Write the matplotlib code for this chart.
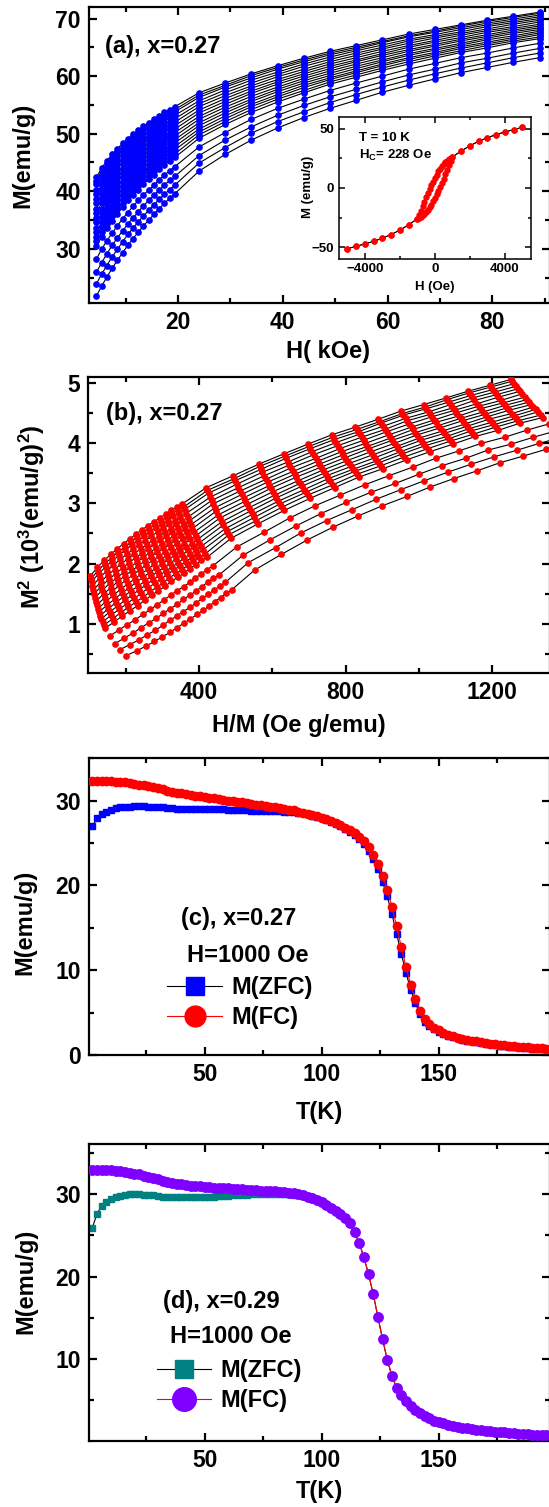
import matplotlib

matplotlib.use("Agg")

import matplotlib.pyplot as plt
import numpy as np
from matplotlib.ticker import MultipleLocator

plt.rcParams["font.family"] = ["Liberation Sans", "DejaVu Sans"]
plt.rcParams["font.weight"] = "bold"
plt.rcParams["axes.labelweight"] = "bold"
plt.rcParams["mathtext.fontset"] = "custom"
plt.rcParams["mathtext.rm"] = "Liberation Sans:bold"
plt.rcParams["mathtext.it"] = "Liberation Sans:bold"
plt.rcParams["mathtext.bf"] = "Liberation Sans:bold"
plt.rcParams["mathtext.default"] = "rm"

# ---- panel (a)/(b): M(H) isotherms, x = 0.27 (lowest curve = highest T) ----
H_KOE = [4.4, 5.4, 6.4, 7.4, 8.4, 9.4, 10.4, 11.4, 12.4, 13.4, 14.4, 15.4, 16.4, 17.4, 18.4, 19.4,
         24, 29, 34, 39, 44, 49, 54, 59, 64, 69, 74, 79, 84, 89]

M_ISO = [
    [21.8, 23.5, 25.1, 26.6, 28.0, 29.3, 30.6, 31.8, 32.9, 34.0, 35.0, 36.0, 37.0, 37.9, 38.8, 39.6, 43.5, 46.4, 48.9, 51.0, 52.8, 54.4, 55.8, 57.2, 58.4, 59.5, 60.6, 61.5, 62.4, 63.2],
    [23.9, 25.6, 27.1, 28.6, 29.9, 31.2, 32.5, 33.6, 34.7, 35.7, 36.7, 37.7, 38.6, 39.5, 40.3, 41.1, 44.9, 47.6, 50.1, 52.1, 53.8, 55.4, 56.8, 58.1, 59.3, 60.4, 61.4, 62.3, 63.2, 64.0],
    [25.9, 27.6, 29.1, 30.6, 31.9, 33.1, 34.3, 35.4, 36.4, 37.5, 38.4, 39.3, 40.2, 41.1, 41.9, 42.6, 46.2, 48.9, 51.2, 53.2, 54.9, 56.4, 57.7, 59.0, 60.2, 61.2, 62.3, 63.1, 64.0, 64.8],
    [28.2, 29.9, 31.4, 32.7, 34.0, 35.2, 36.3, 37.4, 38.4, 39.4, 40.2, 41.1, 42.0, 42.8, 43.6, 44.3, 47.7, 50.2, 52.5, 54.4, 56.0, 57.5, 58.8, 60.0, 61.2, 62.2, 63.2, 64.0, 64.9, 65.7],
    [30.5, 32.1, 33.6, 34.9, 36.1, 37.3, 38.4, 39.4, 40.3, 41.3, 42.1, 42.9, 43.8, 44.5, 45.3, 45.9, 49.2, 51.6, 53.7, 55.5, 57.1, 58.6, 59.8, 61.0, 62.1, 63.1, 64.1, 64.9, 65.8, 66.5],
    [31.3, 32.9, 34.4, 35.7, 36.9, 38.0, 39.1, 40.1, 41.0, 42.0, 42.8, 43.6, 44.4, 45.2, 45.9, 46.5, 49.8, 52.1, 54.2, 56.0, 57.5, 59.0, 60.2, 61.4, 62.5, 63.5, 64.4, 65.3, 66.1, 66.8],
    [32.1, 33.8, 35.2, 36.5, 37.7, 38.8, 39.9, 40.9, 41.8, 42.7, 43.5, 44.3, 45.1, 45.8, 46.5, 47.2, 50.3, 52.6, 54.7, 56.4, 58.0, 59.4, 60.6, 61.8, 62.9, 63.8, 64.8, 65.6, 66.4, 67.2],
    [32.9, 34.6, 36.0, 37.3, 38.5, 39.6, 40.6, 41.6, 42.5, 43.3, 44.1, 44.9, 45.7, 46.4, 47.1, 47.8, 50.8, 53.1, 55.1, 56.8, 58.4, 59.7, 60.9, 62.1, 63.2, 64.1, 65.1, 65.9, 66.7, 67.5],
    [33.7, 35.4, 36.8, 38.1, 39.3, 40.3, 41.3, 42.3, 43.2, 44.0, 44.8, 45.6, 46.3, 47.1, 47.7, 48.4, 51.4, 53.6, 55.6, 57.3, 58.8, 60.1, 61.3, 62.5, 63.6, 64.5, 65.4, 66.3, 67.0, 67.8],
    [34.6, 36.2, 37.6, 38.9, 40.0, 41.1, 42.1, 43.0, 43.9, 44.7, 45.5, 46.2, 47.0, 47.7, 48.3, 49.0, 51.9, 54.1, 56.0, 57.7, 59.2, 60.5, 61.7, 62.8, 63.9, 64.8, 65.7, 66.6, 67.4, 68.1],
    [35.4, 37.0, 38.4, 39.7, 40.8, 41.8, 42.8, 43.7, 44.6, 45.4, 46.2, 46.9, 47.6, 48.3, 49.0, 49.6, 52.5, 54.6, 56.5, 58.1, 59.6, 60.9, 62.1, 63.2, 64.3, 65.2, 66.1, 66.9, 67.7, 68.4],
    [36.2, 37.9, 39.2, 40.5, 41.6, 42.6, 43.6, 44.5, 45.3, 46.1, 46.8, 47.6, 48.3, 49.0, 49.6, 50.2, 53.0, 55.1, 57.0, 58.6, 60.0, 61.3, 62.5, 63.6, 64.6, 65.5, 66.4, 67.2, 68.0, 68.7],
    [37.0, 38.7, 40.0, 41.3, 42.4, 43.4, 44.3, 45.2, 46.0, 46.8, 47.5, 48.2, 48.9, 49.6, 50.2, 50.8, 53.6, 55.6, 57.4, 59.0, 60.4, 61.7, 62.8, 63.9, 65.0, 65.9, 66.7, 67.6, 68.3, 69.0],
    [37.9, 39.5, 40.9, 42.0, 43.1, 44.1, 45.0, 45.9, 46.7, 47.5, 48.2, 48.9, 49.6, 50.2, 50.8, 51.4, 54.1, 56.1, 57.9, 59.4, 60.8, 62.1, 63.2, 64.3, 65.3, 66.2, 67.1, 67.9, 68.6, 69.4],
    [38.7, 40.3, 41.7, 42.8, 43.9, 44.9, 45.8, 46.6, 47.4, 48.2, 48.9, 49.5, 50.2, 50.9, 51.4, 52.0, 54.7, 56.6, 58.3, 59.9, 61.2, 62.5, 63.6, 64.7, 65.7, 66.6, 67.4, 68.2, 69.0, 69.7],
    [39.5, 41.1, 42.5, 43.6, 44.7, 45.6, 46.5, 47.4, 48.1, 48.9, 49.5, 50.2, 50.8, 51.5, 52.0, 52.6, 55.2, 57.1, 58.8, 60.3, 61.7, 62.9, 64.0, 65.0, 66.1, 66.9, 67.7, 68.6, 69.3, 70.0],
    [40.3, 42.0, 43.3, 44.4, 45.5, 46.4, 47.3, 48.1, 48.8, 49.6, 50.2, 50.9, 51.5, 52.1, 52.7, 53.2, 55.7, 57.6, 59.3, 60.7, 62.1, 63.3, 64.4, 65.4, 66.4, 67.2, 68.1, 68.9, 69.6, 70.3],
    [41.2, 42.8, 44.1, 45.2, 46.2, 47.2, 48.0, 48.8, 49.5, 50.3, 50.9, 51.5, 52.1, 52.8, 53.3, 53.8, 56.3, 58.1, 59.7, 61.2, 62.5, 63.7, 64.7, 65.8, 66.8, 67.6, 68.4, 69.2, 69.9, 70.6],
    [41.8, 43.4, 44.7, 45.8, 46.8, 47.7, 48.5, 49.4, 50.1, 50.8, 51.4, 52.0, 52.6, 53.2, 53.7, 54.2, 56.7, 58.4, 60.1, 61.5, 62.8, 64.0, 65.0, 66.0, 67.0, 67.8, 68.7, 69.5, 70.2, 70.9],
    [42.4, 44.0, 45.3, 46.4, 47.4, 48.3, 49.1, 49.9, 50.6, 51.3, 51.9, 52.5, 53.1, 53.7, 54.2, 54.7, 57.1, 58.8, 60.4, 61.8, 63.1, 64.3, 65.3, 66.3, 67.3, 68.1, 68.9, 69.7, 70.4, 71.1],
]

# ---- inset: hysteresis loop at 10 K ----
HYS_H_DOWN = [5000, 4500, 4000, 3500, 3000, 2500, 2000, 1500, 1000, 900, 800, 700, 600, 500, 400, 300,
              200, 100, 0, -100, -200, -300, -400, -500, -600, -700, -800, -900, -1000, -1500, -2000,
              -2500, -3000, -3500, -4000, -4500, -5000]
HYS_M_DOWN = [51.1, 49.1, 47.1, 44.9, 42.3, 39.2, 35.5, 31.0, 26.0, 25.2, 24.2, 23.1, 21.8, 20.3, 18.5, 16.4,
              14.0, 11.3, 8.4, 5.4, 2.4, -0.8, -4.2, -7.8, -11.6, -15.5, -19.4, -23.0, -26.0, -31.0, -35.5,
              -39.2, -42.3, -44.9, -47.1, -49.1, -51.1]
HYS_H_UP = [-5000, -4500, -4000, -3500, -3000, -2500, -2000, -1500, -1000, -900, -800, -700, -600, -500, -400, -300,
            -200, -100, 0, 100, 200, 300, 400, 500, 600, 700, 800, 900, 1000, 1500, 2000,
            2500, 3000, 3500, 4000, 4500, 5000]
HYS_M_UP = [-51.1, -49.1, -47.1, -44.9, -42.3, -39.2, -35.5, -31.0, -26.0, -25.2, -24.2, -23.1, -21.8, -20.3, -18.5, -16.4,
            -14.0, -11.3, -8.4, -5.4, -2.4, 0.8, 4.2, 7.8, 11.6, 15.5, 19.4, 23.0, 26.0, 31.0, 35.5,
            39.2, 42.3, 44.9, 47.1, 49.1, 51.1]

# ---- panels (c)/(d): M(T) at H = 1000 Oe ----
T_K = list(range(2, 198, 2))

ZFC_C = [
    27.0, 27.9, 28.4, 28.7, 28.9, 29.1, 29.2, 29.3, 29.3, 29.35,
    29.35, 29.35, 29.3, 29.3, 29.25, 29.2, 29.15, 29.1, 29.05, 29.0,
    29.0, 29.0, 29.0, 29.0, 29.0, 29.0, 29.0, 29.0, 29.0, 28.95,
    28.95, 28.9, 28.9, 28.85, 28.8, 28.8, 28.8, 28.8, 28.8, 28.8,
    28.75, 28.7, 28.7, 28.65, 28.6, 28.5, 28.4, 28.25, 28.1, 27.9,
    27.7, 27.5, 27.25, 27.0, 26.7, 26.35, 25.95, 25.45, 24.9, 24.1,
    23.1, 21.9, 20.4, 18.7, 16.6, 14.3, 11.9, 9.7, 7.7, 6.1,
    4.8, 3.9, 3.4, 3.05, 2.75, 2.5, 2.3, 2.1, 1.95, 1.8,
    1.7, 1.6, 1.5, 1.4, 1.3, 1.25, 1.2, 1.1, 1.05, 1.0,
    0.95, 0.9, 0.85, 0.8, 0.75, 0.7, 0.68, 0.65,
]
FC_C = [
    32.3, 32.3, 32.3, 32.3, 32.3, 32.25, 32.2, 32.15, 32.1, 32.0,
    31.9, 31.8, 31.7, 31.6, 31.5, 31.35, 31.2, 31.05, 30.95, 30.85,
    30.75, 30.65, 30.55, 30.5, 30.4, 30.35, 30.3, 30.2, 30.1, 30.0,
    29.95, 29.9, 29.8, 29.7, 29.6, 29.55, 29.5, 29.4, 29.3, 29.2,
    29.1, 29.0, 28.95, 28.85, 28.7, 28.6, 28.45, 28.3, 28.15, 28.0,
    27.8, 27.6, 27.35, 27.1, 26.8, 26.5, 26.15, 25.7, 25.2, 24.5,
    23.6, 22.5, 21.1, 19.5, 17.5, 15.2, 12.7, 10.4, 8.3, 6.6,
    5.2, 4.2, 3.6, 3.2, 2.9, 2.65, 2.4, 2.2, 2.05, 1.9,
    1.8, 1.7, 1.6, 1.5, 1.4, 1.35, 1.3, 1.2, 1.15, 1.1,
    1.05, 1.0, 0.95, 0.9, 0.85, 0.8, 0.78, 0.75,
]
ZFC_D = [
    25.9, 27.6, 28.6, 29.1, 29.4, 29.6, 29.8, 29.9, 30.0, 30.0,
    30.0, 29.95, 29.9, 29.85, 29.8, 29.7, 29.65, 29.6, 29.6, 29.6,
    29.6, 29.6, 29.6, 29.6, 29.65, 29.7, 29.7, 29.75, 29.8, 29.8,
    29.85, 29.9, 29.9, 29.95, 30.0, 30.0, 30.0, 30.05, 30.05, 30.05,
    30.05, 30.0, 30.0, 29.95, 29.9, 29.8, 29.65, 29.45, 29.25, 28.95,
    28.65, 28.3, 27.95, 27.55, 27.05, 26.45, 25.35, 24.05, 22.35, 20.25,
    17.85, 15.05, 12.35, 9.85, 7.85, 6.45, 5.55, 4.85, 4.25, 3.75,
    3.35, 2.95, 2.7, 2.45, 2.25, 2.1, 1.95, 1.8, 1.7, 1.6,
    1.5, 1.4, 1.35, 1.25, 1.2, 1.15, 1.1, 1.05, 1.0, 0.95,
    0.9, 0.85, 0.83, 0.8, 0.75, 0.73, 0.7, 0.67,
]
FC_D = [
    33.0, 33.0, 33.0, 32.95, 32.9, 32.85, 32.8, 32.7, 32.6, 32.5,
    32.4, 32.25, 32.1, 31.95, 31.8, 31.65, 31.5, 31.4, 31.3, 31.2,
    31.1, 31.05, 31.0, 30.95, 30.9, 30.85, 30.8, 30.75, 30.7, 30.7,
    30.65, 30.6, 30.6, 30.55, 30.5, 30.5, 30.45, 30.4, 30.4, 30.35,
    30.3, 30.25, 30.2, 30.1, 30.0, 29.85, 29.7, 29.5, 29.3, 29.0,
    28.7, 28.35, 28.0, 27.6, 27.1, 26.5, 25.4, 24.1, 22.4, 20.3,
    17.9, 15.1, 12.4, 9.9, 7.9, 6.5, 5.6, 4.9, 4.3, 3.8,
    3.4, 3.0, 2.75, 2.5, 2.3, 2.15, 2.0, 1.85, 1.75, 1.65,
    1.55, 1.45, 1.4, 1.3, 1.25, 1.2, 1.15, 1.1, 1.05, 1.0,
    0.95, 0.9, 0.88, 0.85, 0.8, 0.78, 0.75, 0.72,
]

W, H = 549, 1507
TICK_FS = 16.5
LABEL_FS = 17
INSET_FS = 9.5


def px_axes(left, top, right, bottom):
    return [left / W, 1 - bottom / H, (right - left) / W, (bottom - top) / H]


def style_axes(ax, fs=TICK_FS, major=6, minor=3.5, lw=1.6):
    for s in ax.spines.values():
        s.set_linewidth(lw)
    ax.tick_params(which="both", direction="in", top=True, right=True, width=lw, labelsize=fs, pad=6)
    ax.tick_params(which="major", length=major)
    ax.tick_params(which="minor", length=minor)


def set_labels(ax, xlabel, ylabel, xpos, ypos, fs=LABEL_FS):
    ax.set_xlabel(xlabel, fontsize=fs, va="center")
    ax.set_ylabel(ylabel, fontsize=fs, va="center")
    ax.xaxis.set_label_coords(*xpos)
    ax.yaxis.set_label_coords(*ypos)


fig = plt.figure(figsize=(W / 100, H / 100), dpi=100)

h_arr = np.array(H_KOE)
m_arr = np.array(M_ISO)

# (a)
ax_a = fig.add_axes(px_axes(89, 7, 550, 303))
for m in m_arr:
    ax_a.plot(h_arr, m, color="black", lw=0.8, zorder=2)
for m in m_arr:
    ax_a.plot(h_arr, m, ls="none", marker="o", ms=3.8, color="#0000ff", zorder=3)
ax_a.set_xlim(3, 91)
ax_a.set_ylim(20.6, 72)
ax_a.xaxis.set_major_locator(MultipleLocator(20))
ax_a.xaxis.set_minor_locator(MultipleLocator(10))
ax_a.yaxis.set_major_locator(MultipleLocator(10))
ax_a.yaxis.set_minor_locator(MultipleLocator(5))
style_axes(ax_a)
set_labels(ax_a, "H( kOe)", "M(emu/g)", (0.518, -0.165), (-0.144, 0.5))
ax_a.text(0.034, 0.866, "(a), x=0.27", transform=ax_a.transAxes, fontsize=LABEL_FS,
          ha="left", va="center")

# inset
ax_in = fig.add_axes(px_axes(338.5, 116.7, 531, 259.3))
ax_in.set_facecolor("white")
ax_in.plot(HYS_H_DOWN, HYS_M_DOWN, color="black", lw=0.7, zorder=2)
ax_in.plot(HYS_H_UP, HYS_M_UP, color="black", lw=0.7, zorder=2)
ax_in.plot(HYS_H_DOWN, HYS_M_DOWN, ls="none", marker="o", ms=3.6, color="#ff0000", zorder=3)
ax_in.plot(HYS_H_UP, HYS_M_UP, ls="none", marker="o", ms=3.6, color="#ff0000", zorder=3)
ax_in.set_xlim(-5500, 5500)
ax_in.set_ylim(-60, 60)
ax_in.xaxis.set_major_locator(MultipleLocator(4000))
ax_in.xaxis.set_minor_locator(MultipleLocator(2000))
ax_in.yaxis.set_major_locator(MultipleLocator(50))
ax_in.yaxis.set_minor_locator(MultipleLocator(25))
style_axes(ax_in, fs=INSET_FS, major=4, minor=2.5, lw=1.1)
ax_in.tick_params(pad=3)
set_labels(ax_in, "H (Oe)", "M (emu/g)", (0.498, -0.195), (-0.16, 0.509), fs=INSET_FS)
ax_in.text(0.109, 0.849, "T = 10 K", transform=ax_in.transAxes, fontsize=INSET_FS, ha="left", va="center")
ax_in.text(0.109, 0.731, "H$_{C}$= 228 Oe", transform=ax_in.transAxes, fontsize=INSET_FS,
           ha="left", va="center")

# (b) Arrott plot from the same isotherms
ax_b = fig.add_axes(px_axes(88.3, 376.7, 550, 672.7))
hm = h_arr[None, :] * 1000.0 / m_arr
m2 = m_arr ** 2 / 1000.0
for x, y in zip(hm, m2):
    ax_b.plot(x, y, color="black", lw=0.8, zorder=2)
for x, y in zip(hm, m2):
    ax_b.plot(x, y, ls="none", marker="o", ms=3.8, color="#ff0000", zorder=3)
ax_b.set_xlim(98, 1358)
ax_b.set_ylim(0.19, 5.1)
ax_b.xaxis.set_major_locator(MultipleLocator(400))
ax_b.xaxis.set_minor_locator(MultipleLocator(200))
ax_b.yaxis.set_major_locator(MultipleLocator(1))
ax_b.yaxis.set_minor_locator(MultipleLocator(0.5))
style_axes(ax_b)
set_labels(ax_b, "H/M (Oe g/emu)", "M$^{2}$ (10$^{3}$(emu/g)$^{2}$)", (0.456, -0.177), (-0.122, 0.527))
ax_b.text(0.039, 0.876, "(b), x=0.27", transform=ax_b.transAxes, fontsize=LABEL_FS,
          ha="left", va="center")


def mt_panel(rect, zfc, fc, zfc_color, fc_color, ylim, tag, tag_pos, field_pos, leg_pos, xlab_y, ylab_pos,
             fc_ms, zfc_ms):
    ax = fig.add_axes(rect)
    ax.plot(T_K, zfc, color="black", lw=0.8, marker="s", ms=zfc_ms, mfc=zfc_color, mec=zfc_color,
            label="M(ZFC)", zorder=2)
    ax.plot(T_K, fc, color="#ff0000", lw=0.8, marker="o", ms=fc_ms, mfc=fc_color, mec=fc_color,
            label="M(FC)", zorder=3)
    ax.set_xlim(0.6, 197.5)
    ax.set_ylim(*ylim)
    ax.xaxis.set_major_locator(MultipleLocator(50))
    ax.xaxis.set_minor_locator(MultipleLocator(25))
    ax.yaxis.set_major_locator(MultipleLocator(10))
    ax.yaxis.set_minor_locator(MultipleLocator(5))
    style_axes(ax)
    set_labels(ax, "T(K)", "M(emu/g)", (0.5, xlab_y), ylab_pos)
    ax.text(*tag_pos, tag, transform=ax.transAxes, fontsize=LABEL_FS, ha="left", va="center")
    ax.text(*field_pos, "H=1000 Oe", transform=ax.transAxes, fontsize=LABEL_FS, ha="left", va="center")
    ax.legend(loc="upper left", bbox_to_anchor=leg_pos, frameon=False, fontsize=LABEL_FS,
              markerscale=2.5, handlelength=2.3, handletextpad=0.4, labelspacing=0.3,
              borderpad=0, borderaxespad=0)
    return ax


mt_panel(px_axes(89, 758.3, 550, 1055), ZFC_C, FC_C, "#0000ff", "#ff0000", (0, 35),
         "(c), x=0.27", (0.2, 0.461), (0.212, 0.337), (0.17, 0.266), -0.195, (-0.14, 0.447),
         fc_ms=6, zfc_ms=5)
mt_panel(px_axes(89, 1144, 550, 1440.7), ZFC_D, FC_D, "#008080", "#8000ff", (0.05, 36.1),
         "(d), x=0.29", (0.161, 0.468), (0.176, 0.35), (0.1475, 0.276), -0.172, (-0.137, 0.536),
         fc_ms=6.8, zfc_ms=5)

fig.savefig("out.png", dpi=100)
